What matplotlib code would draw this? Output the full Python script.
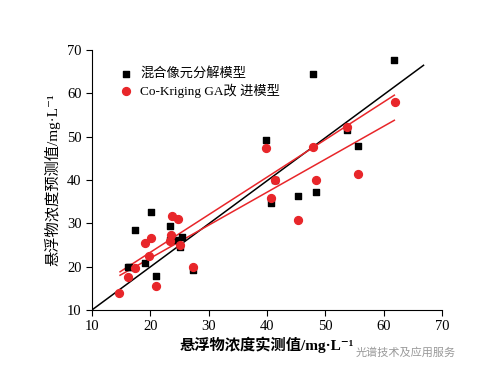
import matplotlib
matplotlib.use("Agg")
import matplotlib.pyplot as plt

plt.rcParams['font.family'] = ['Liberation Serif', 'Noto Sans CJK SC', 'DejaVu Serif']

# 混合像元分解模型 (black squares)
mix_x = [16.3, 17.4, 20.1, 16.1, 19.0, 21.0, 23.4, 23.4, 24.4, 25.0, 25.4, 27.3,
         39.8, 47.9, 61.8, 53.7, 55.5, 41.4, 40.7, 45.3, 48.4]
mix_y = [19.9, 28.4, 32.5, 19.9, 20.9, 17.9, 29.4, 26.2, 26.2, 24.6, 26.8, 19.1,
         49.3, 64.6, 67.8, 51.5, 47.8, 40.0, 34.6, 36.2, 37.2]

# Co-Kriging GA 改进模型 (red circles)
ck_x = [14.7, 16.1, 17.3, 19.0, 20.1, 19.7, 21.0, 23.7, 24.8, 23.5, 23.4, 25.0, 27.3,
        39.8, 47.9, 53.7, 61.9, 41.4, 40.7, 48.4, 45.3, 55.5]
ck_y = [14.0, 17.5, 19.6, 25.4, 26.5, 22.5, 15.6, 31.7, 30.9, 27.3, 25.9, 25.0, 20.0,
        47.3, 47.7, 52.3, 58.1, 40.0, 35.8, 40.0, 30.8, 41.4]

# fitted lines (end points)
line_1to1_x = [10, 66.8]
line_1to1_y = [10, 66.5]
line_red1_x = [14.8, 61.8]
line_red1_y = [18.8, 59.6]
line_red2_x = [14.8, 61.8]
line_red2_y = [18.0, 53.8]

RED = "#e8262a"

fig = plt.figure(figsize=(4.87, 3.77), dpi=100)
ax = fig.add_axes([0.189, 0.178, 0.719, 0.689])

ax.plot(line_1to1_x, line_1to1_y, color="black", lw=1.1, zorder=2)
ax.plot(line_red1_x, line_red1_y, color=RED, lw=1.1, zorder=2)
ax.plot(line_red2_x, line_red2_y, color=RED, lw=1.1, zorder=2)

ax.scatter(mix_x, mix_y, marker="s", s=20, color="black", zorder=3,
           label="混合像元分解模型")
ax.scatter(ck_x, ck_y, marker="o", s=32, color=RED, zorder=4,
           label="Co-Kriging GA改 进模型")

ax.set_xlim(10, 70)
ax.set_ylim(10, 70)
ax.set_xticks(range(10, 71, 10))
ax.set_yticks(range(10, 71, 10))
ax.tick_params(labelsize=10.5, length=4, width=0.8)
for s in ["top", "right"]:
    ax.spines[s].set_visible(False)

ax.set_xlabel("悬浮物浓度实测值/mg·L⁻¹", fontsize=11, fontweight="bold", labelpad=2)
ax.set_ylabel("悬浮物浓度预测值/mg·L⁻¹", fontsize=11, labelpad=5)

ax.legend(loc="upper left", bbox_to_anchor=(0.055, 0.965), frameon=False,
          fontsize=9.5, handletextpad=0.6, labelspacing=0.25, borderaxespad=0.2,
          handlelength=1.0)

fig.text(0.73, 0.055, "光谱技术及应用服务", fontsize=8, color="#999999",
         family=['Noto Sans CJK SC'])

fig.savefig("out.png", dpi=100)
